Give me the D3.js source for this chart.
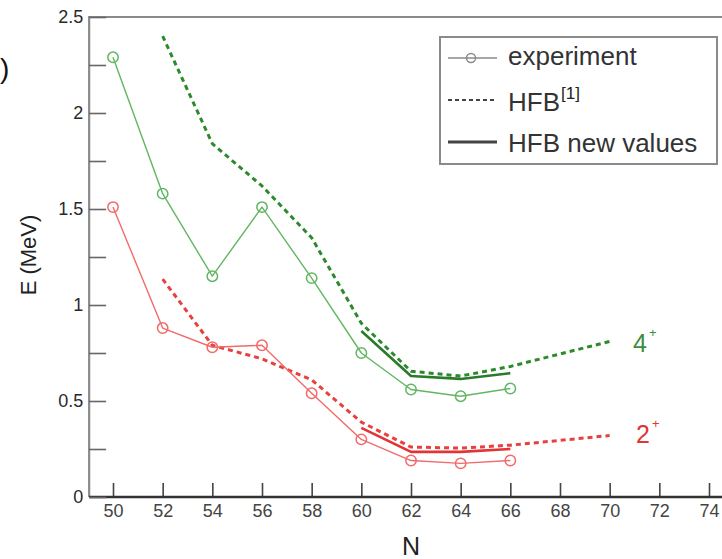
<!DOCTYPE html>
<html>
<head>
<meta charset="utf-8">
<script src="https://cdn.jsdelivr.net/npm/d3@7"></script>
<style>
  html, body { margin: 0; padding: 0; background: #fff; }
  svg { display: block; font-family: "Liberation Sans", Arial, Helvetica, sans-serif; }
</style>
</head>
<body>
<svg id="chart" width="722" height="559"></svg>
<script>
// Neutron number N
const nExp = [50, 52, 54, 56, 58, 60, 62, 64, 66];
const nHfb = [52, 54, 56, 58, 60, 62, 64, 66, 68, 70];
const nNew = [60, 62, 64, 66];

// Excitation energies (MeV) of the 4+ and 2+ states
const exp4 = [2.29, 1.58, 1.15, 1.51, 1.14, 0.75, 0.56, 0.525, 0.565];
const exp2 = [1.51, 0.88, 0.78, 0.79, 0.54, 0.30, 0.19, 0.175, 0.19];
const hfb4 = [2.40, 1.84, 1.62, 1.35, 0.905, 0.655, 0.63, 0.68, 0.745, 0.81];
const hfb2 = [1.135, 0.79, 0.72, 0.61, 0.39, 0.26, 0.255, 0.27, 0.295, 0.32];
const new4 = [0.865, 0.63, 0.615, 0.645];
const new2 = [0.36, 0.235, 0.235, 0.25];

// Axis ticks
const xTicks = [50, 52, 54, 56, 58, 60, 62, 64, 66, 68, 70, 72, 74];
const yTicks = [0, 0.25, 0.5, 0.75, 1, 1.25, 1.5, 1.75, 2, 2.25, 2.5];
const yTickLabels = ["0", "", "0.5", "", "1", "", "1.5", "", "2", "", "2.5"];

const legendLabels = ["experiment", "HFB", "HFB new values"];
const legendRef = "[1]";

const svg = d3.select("#chart");

const x = d3.scaleLinear().domain([50, 74]).range([113, 709]);
const y = d3.scaleLinear().domain([0, 2.5]).range([497, 17]);
const xLo = 49.04, xHi = 75.2;

const C = {
  g4exp: "#62b662", g4hfb: "#2c8a2c", g4new: "#2a7a2a",
  r2exp: "#f26a6a", r2hfb: "#e8403f", r2new: "#e23434",
  text: "#333"
};

// plot frame (right side runs past the page edge)
svg.append("path")
  .attr("d", `M${x(xHi)},${y(2.5)}H${x(xLo)}V${y(0)}`)
  .attr("fill", "none").attr("stroke", "#8a8a8a").attr("stroke-width", 2.2);

// axes with inward ticks
const xAxis = d3.axisBottom(x).tickValues(xTicks).tickSizeInner(-14).tickSizeOuter(0)
  .tickPadding(7).tickFormat(d3.format("d"));
const gx = svg.append("g").attr("transform", `translate(0,${y(0)})`).call(xAxis);
gx.select(".domain").remove();
gx.append("line").attr("x1", x(xLo)).attr("x2", x(xHi)).attr("stroke", "#333").attr("stroke-width", 2.5);
gx.selectAll(".tick line").attr("stroke", "#444").attr("stroke-width", 1.6);
gx.selectAll(".tick text").attr("fill", "#444").style("font-size", "18px")
  .attr("font-family", "'Liberation Sans', Arial, sans-serif");

const yAxis = d3.axisLeft(y).tickValues(yTicks).tickSizeInner(-17).tickSizeOuter(0)
  .tickPadding(6).tickFormat((d, i) => yTickLabels[i]);
const gy = svg.append("g").attr("transform", `translate(${x(xLo)},0)`).call(yAxis);
gy.select(".domain").remove();
gy.selectAll(".tick line").attr("stroke", "#666").attr("stroke-width", 1.6);
gy.selectAll(".tick text").attr("fill", "#2a2a2a").style("font-size", "18px")
  .attr("font-family", "'Liberation Sans', Arial, sans-serif");

// axis titles
svg.append("text").attr("x", x(62)).attr("y", 555).attr("text-anchor", "middle")
  .attr("fill", "#222").style("font-size", "25px").text("N");
svg.append("text").attr("transform", `translate(36,255) rotate(-90)`)
  .attr("text-anchor", "middle").attr("fill", "#222").style("font-size", "22px").text("E (MeV)");

// panel tag at the left edge
svg.append("text").attr("x", 0).attr("y", 78)
  .attr("fill", "#111").style("font-size", "28px").text(")");

const line = d3.line().x(d => x(d[0])).y(d => y(d[1]));
const zip = (a, b) => a.map((v, i) => [v, b[i]]);

function drawSeries(ns, vals, color, width, dash) {
  svg.append("path").datum(zip(ns, vals)).attr("d", line)
    .attr("fill", "none").attr("stroke", color).attr("stroke-width", width)
    .attr("stroke-dasharray", dash || null).attr("stroke-linejoin", "round");
}
function drawMarkers(ns, vals, color) {
  svg.append("g").selectAll("circle").data(zip(ns, vals)).join("circle")
    .attr("cx", d => x(d[0])).attr("cy", d => y(d[1])).attr("r", 5.2)
    .attr("fill", "none").attr("stroke", color).attr("stroke-width", 1.5);
}

// 2+ state
drawSeries(nHfb, hfb2, C.r2hfb, 3, "5,4");
drawSeries(nNew, new2, C.r2new, 2.6);
drawSeries(nExp, exp2, C.r2exp, 1.4);
drawMarkers(nExp, exp2, C.r2exp);

// 4+ state
drawSeries(nHfb, hfb4, C.g4hfb, 3, "5,4");
drawSeries(nNew, new4, C.g4new, 2.6);
drawSeries(nExp, exp4, C.g4exp, 1.4);
drawMarkers(nExp, exp4, C.g4exp);

// state labels
function stateLabel(xPos, yBase, main, color) {
  svg.append("text").attr("x", xPos).attr("y", yBase).attr("fill", color)
    .style("font-size", "25px").text(main);
  svg.append("text").attr("x", xPos + 16).attr("y", yBase - 15).attr("fill", color)
    .style("font-size", "13px").text("+");
}
stateLabel(633, 352, "4", "#3a8f3a");
stateLabel(636, 443, "2", "#e23434");

// legend
const lg = svg.append("g");
lg.append("rect").attr("x", 440).attr("y", 37).attr("width", 277).attr("height", 127)
  .attr("fill", "#fff").attr("stroke", "#8a8a8a").attr("stroke-width", 2);
const lx0 = 448, lx1 = 497, tx = 508;
lg.append("line").attr("x1", lx0).attr("x2", lx1).attr("y1", 58).attr("y2", 58)
  .attr("stroke", "#8a8a8a").attr("stroke-width", 1.6);
lg.append("circle").attr("cx", 471).attr("cy", 58).attr("r", 4.5)
  .attr("fill", "none").attr("stroke", "#8a8a8a").attr("stroke-width", 1.5);
lg.append("line").attr("x1", lx0).attr("x2", lx1).attr("y1", 100).attr("y2", 100)
  .attr("stroke", "#444").attr("stroke-width", 2.2).attr("stroke-dasharray", "4,3");
lg.append("line").attr("x1", lx0).attr("x2", lx1).attr("y1", 142).attr("y2", 142)
  .attr("stroke", "#444").attr("stroke-width", 3);
const lgText = [[legendLabels[0], 65], [legendLabels[1], 111], [legendLabels[2], 152]];
lg.selectAll("text.item").data(lgText).join("text").attr("class", "item")
  .attr("x", tx).attr("y", d => d[1]).attr("fill", C.text)
  .style("font-size", "26px").text(d => d[0]);
lg.append("text").attr("x", 561).attr("y", 99).attr("fill", "#222")
  .style("font-size", "17px").text(legendRef);
</script>
</body>
</html>
